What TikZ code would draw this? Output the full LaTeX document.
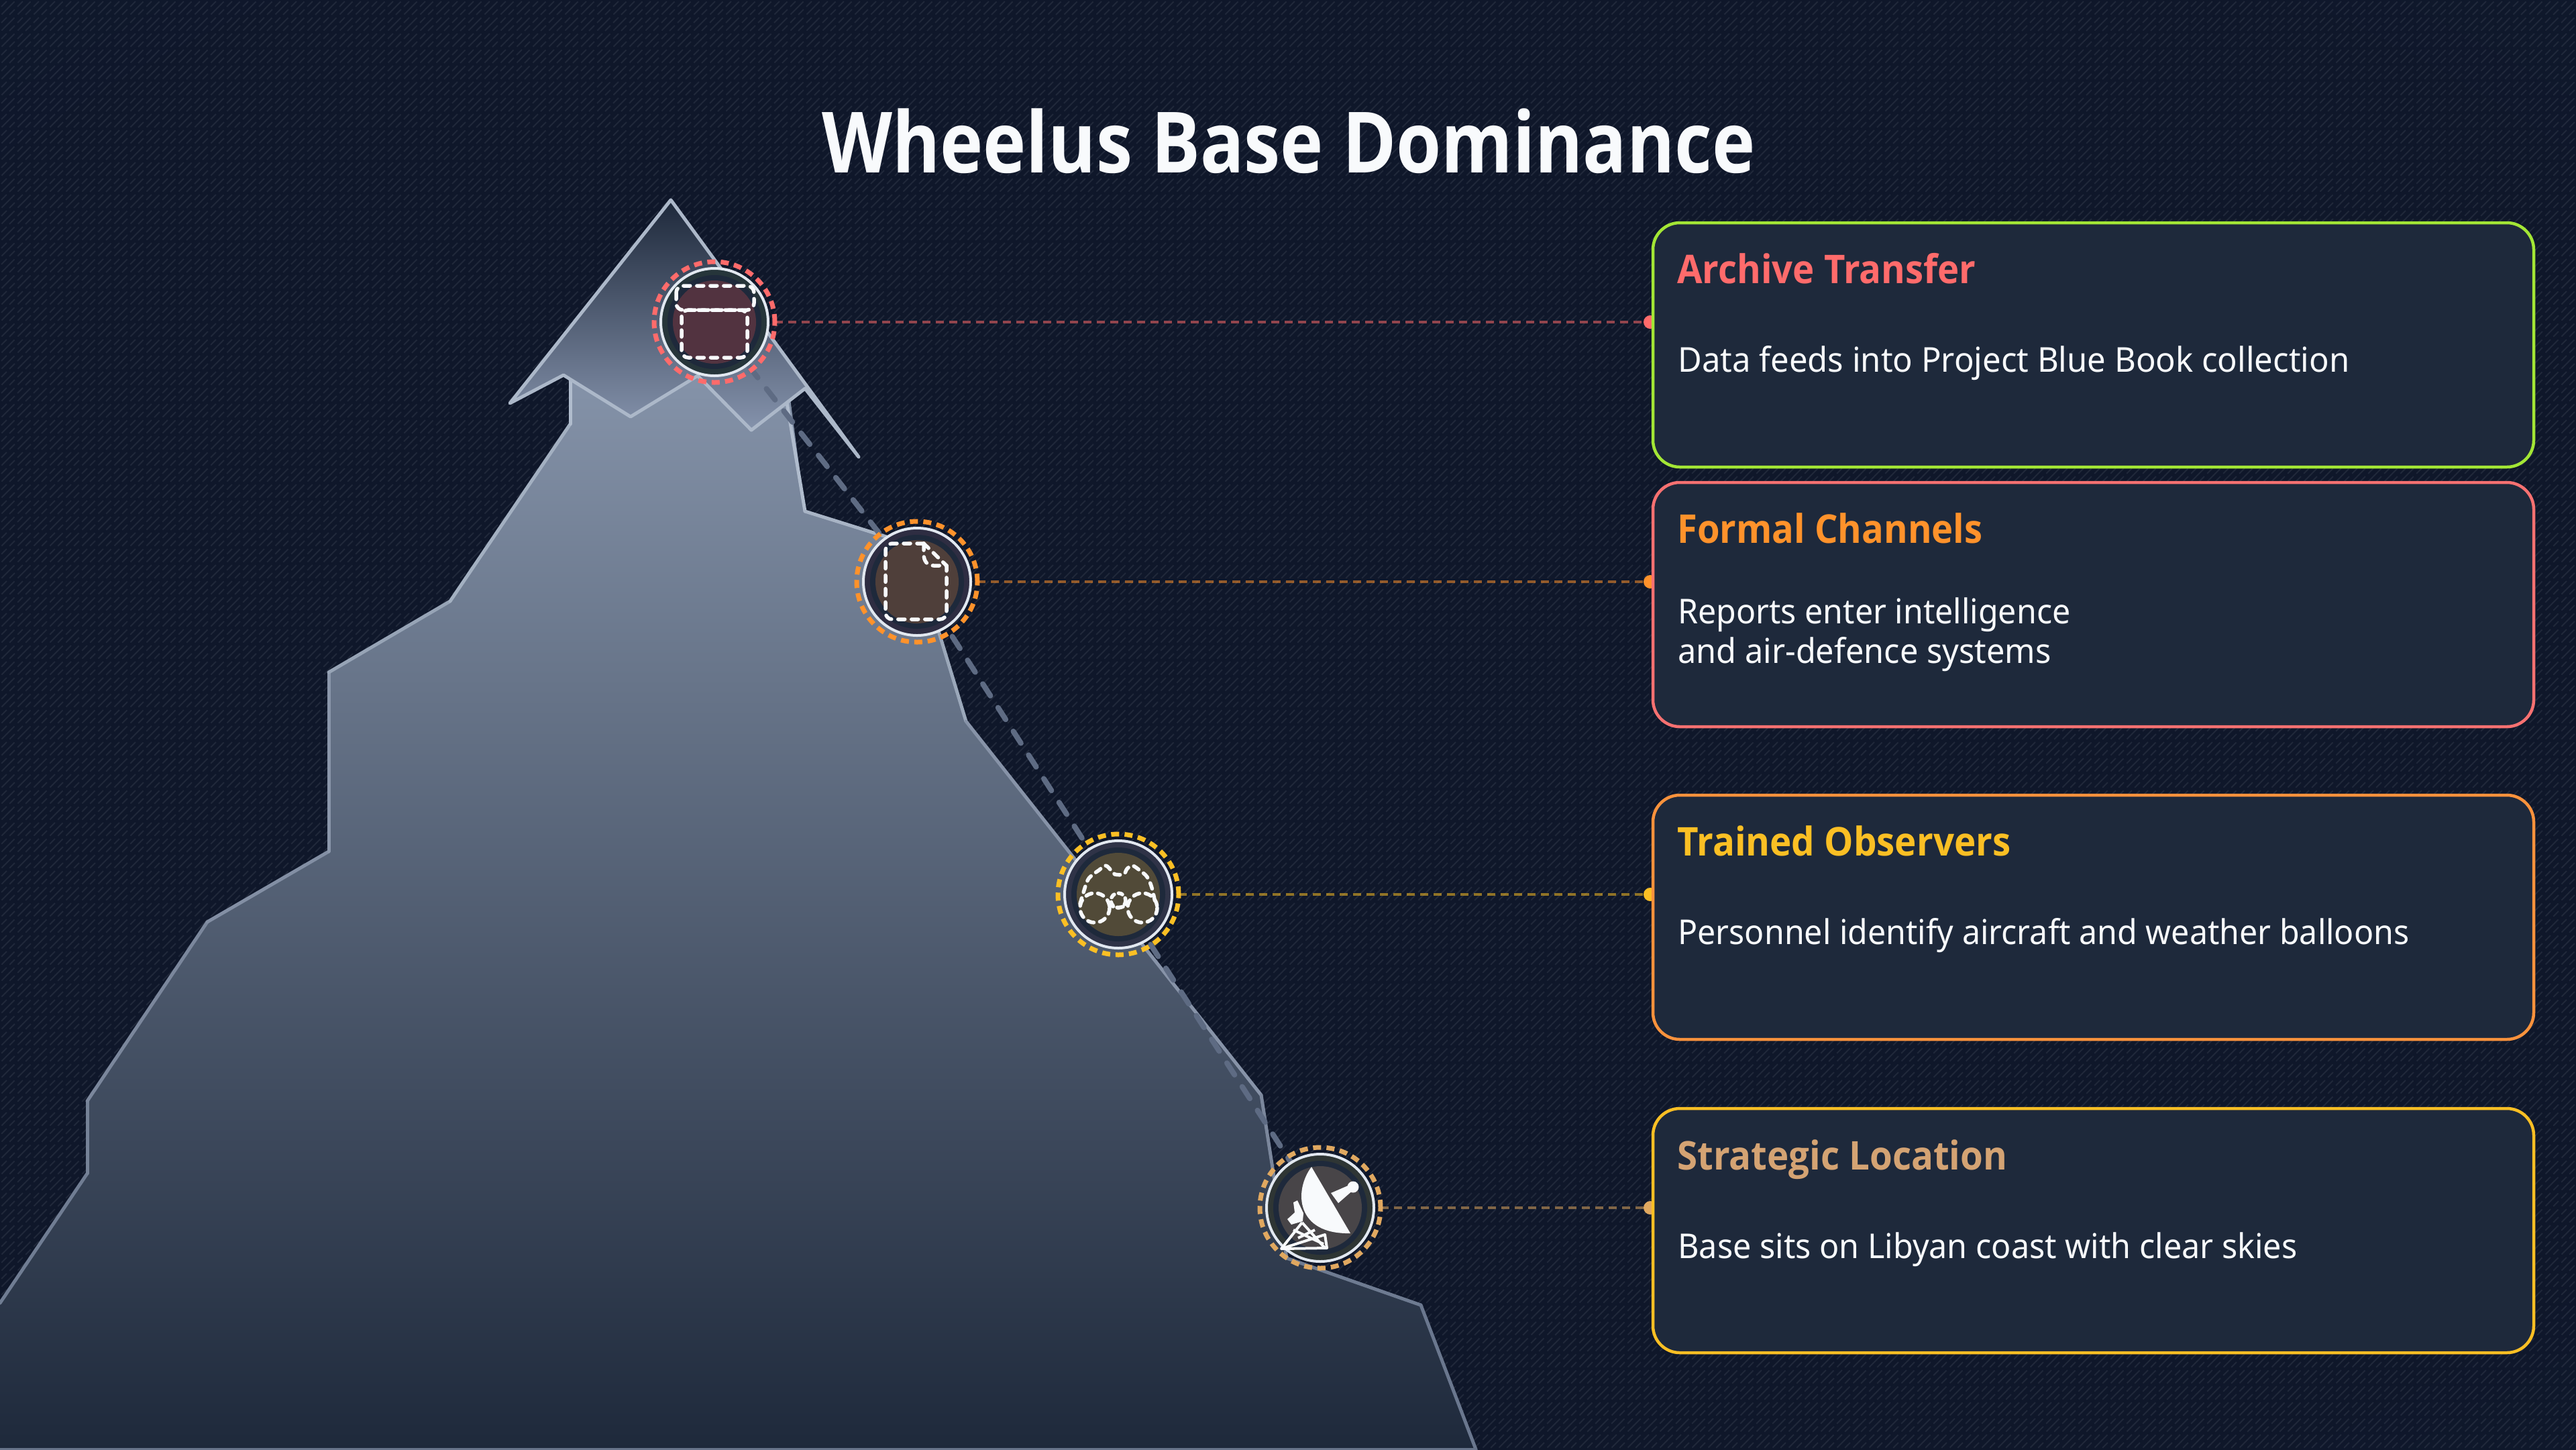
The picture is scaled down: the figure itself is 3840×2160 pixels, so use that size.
\documentclass[tikz,border=0pt]{standalone}
\usepackage{fontspec}
\usepackage{graphicx}
\setmainfont{Noto Sans}
\newfontfamily\headfam{Open Sans}
\usetikzlibrary{calc}
\pgfdeclarelayer{bg}
\pgfsetlayers{bg,main}
\definecolor{bgd}{HTML}{0F172A}
\definecolor{bgm}{HTML}{101A2F}
\definecolor{bgl}{HTML}{1A2740}
\definecolor{panel}{HTML}{1E293B}
\definecolor{mtop}{HTML}{B8C4D4}
\definecolor{mbot}{HTML}{66738A}
\definecolor{mfill}{HTML}{8593A9}
\definecolor{snowb}{HTML}{919FB9}
\definecolor{iconw}{HTML}{F8FAFC}
\definecolor{ringw}{HTML}{E2E8F0}
\definecolor{coral}{HTML}{FF6B6B}
\definecolor{orng}{HTML}{FF922B}
\definecolor{ambr}{HTML}{FBBF24}
\definecolor{tan}{HTML}{E0A860}
\definecolor{tantitle}{HTML}{D4A373}
\definecolor{limeb}{HTML}{A3E635}
\definecolor{roseb}{HTML}{F87171}
\definecolor{orngb}{HTML}{FB923C}
\pgfdeclareradialshading{vign}{\pgfpointorigin}{color(0bp)=(bgd);color(30bp)=(bgd);color(48bp)=(bgm);color(72bp)=(bgl);color(100bp)=(bgl)}
\newcommand{\fitw}[2]{\setbox0=\hbox{#2}\pgfmathsetmacro{\fitr}{#1/\the\wd0}\scalebox{\fitr}[1]{\box0}}
\tikzset{
  ringnode/.style={circle,inner sep=0pt,outer sep=0pt,minimum size=90pt,line width=3.5pt,dash pattern=on 6pt off 4pt},
  ico/.style={draw=iconw,line width=2.75pt,line cap=round,line join=round,dash pattern=on 5pt off 5pt},
  cardbox/.style={rectangle,rounded corners=20pt,fill=panel,line width=2.25pt,inner sep=0pt,outer sep=0pt,minimum width=656.5pt,minimum height=182pt,anchor=north west},
  flowline/.style={draw=#1,line width=2.25pt,dash pattern=on 6pt off 4pt,opacity=.55},
  ttl/.style={anchor=base west,inner sep=0pt,font=\fontsize{29.5}{32}\selectfont\headfam\bfseries},
  bodytxt/.style={anchor=base west,inner sep=0pt,text=iconw,font=\fontsize{25.5}{28}\selectfont},
  hatchline/.style={draw=white!45!mbot,opacity=.11,line width=1pt},
}
\begin{document}
\begin{tikzpicture}[x=0.5pt,y=-0.5pt]
\useasboundingbox (0,0) rectangle (3840,2160);
\begin{pgfonlayer}{bg}
  \path[shading=vign] (0,0) rectangle (3840,2160);
  \begin{scope}
    \clip (0,0) rectangle (3840,2160);
    \foreach \c in {0,24,...,6000}
      \draw[hatchline,dash pattern=on 13.5pt off 3.47pt,dash phase=15.23pt] (\c,0) -- (\c-2160,2160);
    \foreach \c in {12,36,...,6000}
      \draw[hatchline,dash pattern=on 5.5pt off 2.985pt,dash phase=6.99pt] (\c,0) -- (\c-2160,2160);
  \end{scope}
  % mountain body
  \shade[top color=mfill,bottom color=panel]
    (0,1942) -- (130,1749) -- (130,1641) -- (309,1374) -- (490,1269) -- (490,1002) -- (671,896) -- (850,632) -- (850,556)
    -- (1173,556) -- (1200,762) -- (1360,812) -- (1440,1075) -- (1880,1632) -- (1918,1875) -- (2118,1945) -- (2200,2160) -- (0,2160) -- cycle;
  \foreach \xa/\ya/\xb/\yb/\p in {
    0/1942/130/1749/12,130/1749/130/1641/18,130/1641/309/1374/25,309/1374/490/1269/35,
    490/1269/490/1002/45,490/1002/671/896/60,671/896/850/632/75,850/632/850/556/90,
    1173/600/1200/762/90,1200/762/1360/812/80,1360/812/1440/1075/65,1440/1075/1880/1632/40,
    1880/1632/1918/1875/25,1918/1875/2118/1945/10,2118/1945/2200/2160/5,2200/2160/0/2160/0}
    \draw[draw=mtop!\p!mbot,line width=2.5pt,line cap=round] (\xa,\ya) -- (\xb,\yb);
  % snow cap
  \shade[top color=panel,bottom color=snowb,draw=mtop!85!mbot,line width=2.5pt,line join=round]
    (1000,298) -- (1280,681) -- (1200,579) -- (1120,641) -- (1040,560) -- (940,621) -- (840,559) -- (760,601) -- cycle;
\end{pgfonlayer}

% waypoint rings
\node[ringnode,draw=coral] (c1) at (1065,480) {};
\node[ringnode,draw=orng] (c2) at (1367,867) {};
\node[ringnode,draw=ambr] (c3) at (1667,1333) {};
\node[ringnode,draw=tan] (c4) at (1968,1800) {};

% cards
\node[cardbox,draw=limeb] (k1) at (2464,332) {};
\node[cardbox,draw=roseb] (k2) at (2464,719) {};
\node[cardbox,draw=orngb] (k3) at (2464,1185) {};
\node[cardbox,draw=ambr] (k4) at (2464,1652) {};

\begin{pgfonlayer}{bg}
  \draw[draw=mbot!90!bgl,line width=4pt,line cap=round,dash pattern=on 10.5pt off 10.5pt] (c1.center) -- (c2.center) -- (c3.center) -- (c4.center);
  \foreach \n/\col in {1/coral,2/orng,3/ambr,4/tan}{
    \draw[flowline=\col] (c\n.east) -- (k\n.west |- c\n);
    \path (k\n.west |- c\n) ++(-4,0) coordinate (d\n);
    \fill[\col] (d\n) circle[radius=10];
  }
\end{pgfonlayer}

% disc layers
\foreach \n/\band/\disc in {1/26353A/523340,2/2E2D42/4F3F3A,3/2F3347/514A38,4/2E3534/484548}{
  \definecolor{tb}{HTML}{\band}\definecolor{td}{HTML}{\disc}
  \fill[tb] (c\n) circle[radius=79];
  \fill[panel] (c\n) circle[radius=70];
  \fill[td] (c\n) circle[radius=62];
  \draw[draw=ringw,line width=2pt] (c\n) circle[radius=80];
}

% archive icon
\draw[ico,rounded corners=5pt] (1008,426) rectangle (1124,462);
\draw[ico,rounded corners=5pt] (1016,462) rectangle (1114,533);

% document icon
\draw[ico,rounded corners=5pt] (1377,810) -- (1320,810) -- (1320,923) -- (1411,923) -- (1411,843);
\draw[ico] (1377,810) -- (1411,843);
\draw[ico] (1377,810) -- (1377,826) .. controls (1377,836) and (1382,843) .. (1392,843) -- (1411,843);

% binoculars icon
\draw[ico,dash pattern=on 4.5pt off 4.5pt] plot[smooth,tension=.6] coordinates {(1610,1347) (1620,1315) (1627,1305) (1638,1297) (1648,1290) (1657,1298) (1662,1303) (1675,1303) (1680,1295) (1688,1290) (1700,1298) (1710,1307) (1717,1323) (1723,1350)};
\draw[ico,dash pattern=on 4.5pt off 4.5pt] (1632,1353) circle[radius=22];
\draw[ico,dash pattern=on 4.5pt off 4.5pt] (1703,1353) circle[radius=22];
\draw[ico,dash pattern=on 3pt off 3.5pt] (1667,1342) circle[radius=11];
\draw[ico,dash pattern=on 4.5pt off 3pt] (1653,1345) .. controls (1657,1355) and (1677,1355) .. (1681,1345);

% dish icon
\fill[iconw] (1955,1739) .. controls (1928,1775) and (1932,1840) .. (2013,1838) -- cycle;
\fill[iconw] (1984,1778) -- (1995,1793) -- (2019,1772) -- (2014,1765) -- cycle;
\fill[iconw] (2017,1769) circle[radius=8.5];
\fill[iconw] (1928,1792) -- (1934,1789) -- (1943,1808) -- (1942,1820) -- (1925,1825) -- (1919,1817) -- (1930,1807) -- cycle;
\draw[draw=iconw,line width=2pt,line join=round]
  (1941,1822) -- (1910,1861) -- (1978,1860) -- (1975,1840) -- (1910,1861)
  (1941,1822) -- (1975,1860)
  (1928,1833) -- (1973,1854)
  (1935,1845) -- (1960,1833);

% texts
\node[anchor=base,inner sep=0pt,text=iconw,font=\fontsize{63}{70}\selectfont\headfam\bfseries] (title) at (1921,257) {\fitw{696}{Wheelus Base Dominance}};

\node[ttl,text=coral] (t1) at (2500,422) {\fitw{222.5}{Archive Transfer}};
\node[bodytxt] (b1) at (2501,554) {\fitw{500.5}{Data feeds into Project Blue Book collection}};

\node[ttl,text=orng] (t2) at (2500,809) {\fitw{227.5}{Formal Channels}};
\node[bodytxt] (b2a) at (2501,929) {\fitw{292.5}{Reports enter intelligence}};
\node[bodytxt] (b2b) at (2501,988) {\fitw{278}{and air-defence systems}};

\node[ttl,text=ambr] (t3) at (2500,1275) {\fitw{248.5}{Trained Observers}};
\node[bodytxt] (b3) at (2501,1407) {\fitw{545}{Personnel identify aircraft and weather balloons}};

\node[ttl,text=tantitle] (t4) at (2500,1743) {\fitw{246}{Strategic Location}};
\node[bodytxt] (b4) at (2501,1875) {\fitw{461.5}{Base sits on Libyan coast with clear skies}};
\end{tikzpicture}
\end{document}
